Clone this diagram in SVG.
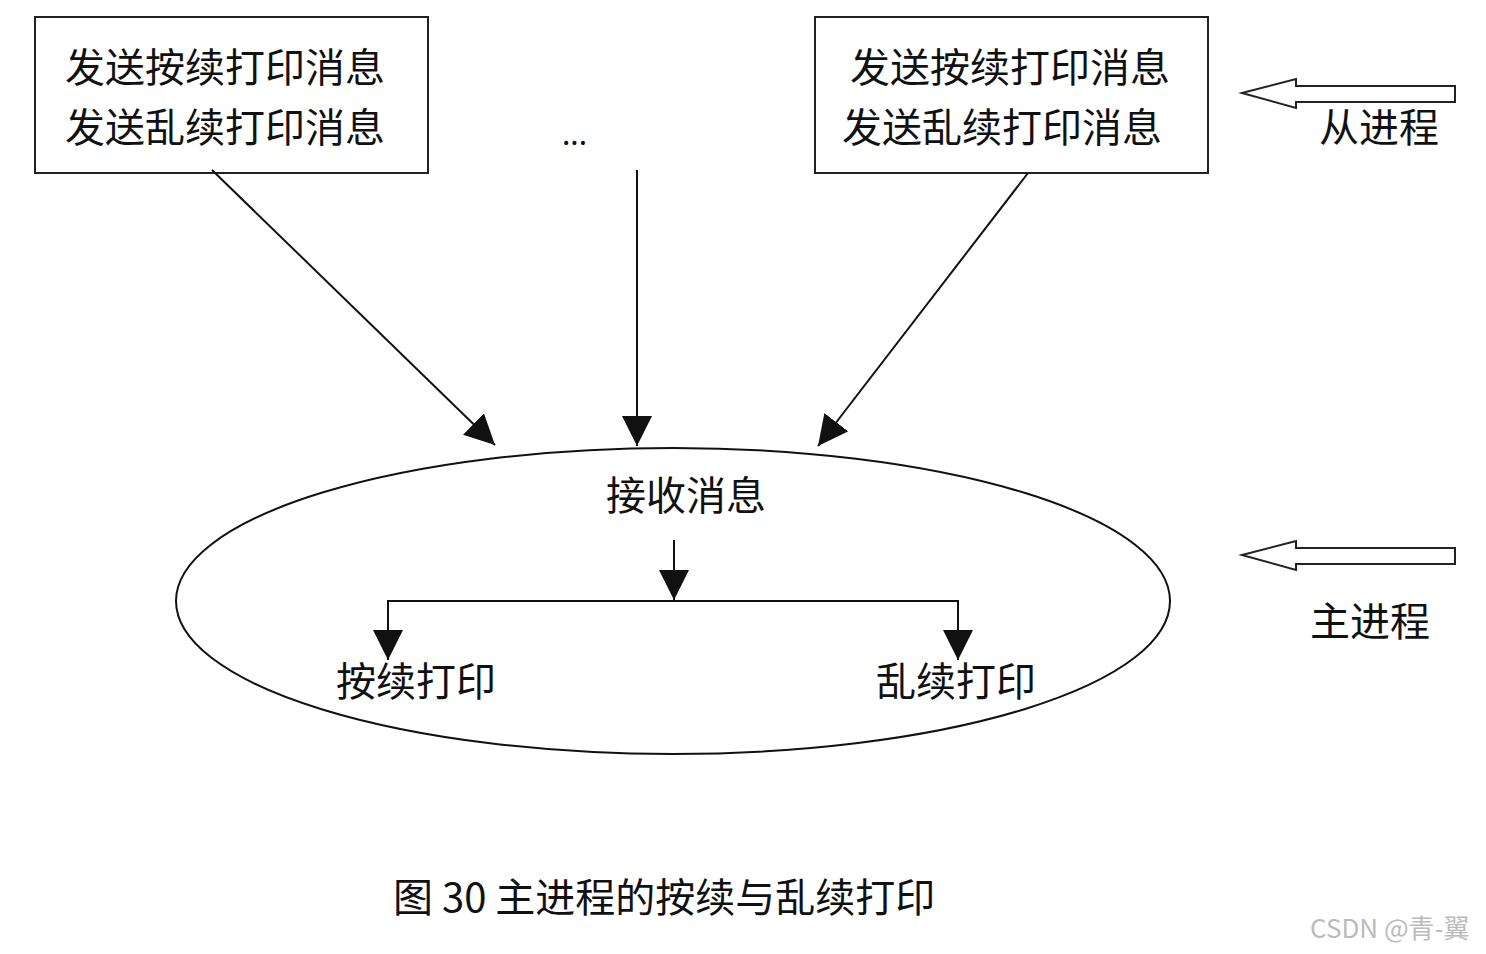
<svg xmlns="http://www.w3.org/2000/svg" width="1486" height="954" viewBox="0 0 1486 954">
<defs>
<style>
text{font-family:"Noto Sans CJK SC","Liberation Sans",sans-serif;fill:#111}
.t{font-size:40px}
.box{fill:#fff;stroke:#222;stroke-width:2}
.ln{stroke:#111;stroke-width:2;fill:none}
.hol{fill:#fff;stroke:#222;stroke-width:2}
</style>
<marker id="ah" viewBox="0 0 10 10" refX="10" refY="5" markerWidth="30" markerHeight="30" markerUnits="userSpaceOnUse" orient="auto"><path d="M0,0L10,5L0,10z" fill="#111"/></marker>
</defs>
<rect width="1486" height="954" fill="#fff"/>
<g id="box-left"><rect class="box" x="35" y="17" width="393" height="156"/>
<text class="t" x="65" y="82">发送按续打印消息</text><text class="t" x="65" y="142">发送乱续打印消息</text></g>
<g id="box-right"><rect class="box" x="815" y="17" width="393" height="156"/>
<text class="t" x="850" y="82">发送按续打印消息</text><text class="t" x="842" y="142">发送乱续打印消息</text></g>
<g id="dots"><text x="562" y="145" style="font-size:30px">...</text></g>
<g id="main"><ellipse cx="673" cy="601" rx="497" ry="153" fill="none" stroke="#111" stroke-width="2"/>
<text class="t" x="686" y="510" text-anchor="middle">接收消息</text>
<text class="t" x="416" y="696" text-anchor="middle">按续打印</text>
<text class="t" x="956" y="696" text-anchor="middle">乱续打印</text></g>
<g id="connectors">
<line class="ln" x1="212" y1="170" x2="495" y2="445" marker-end="url(#ah)"/>
<line class="ln" x1="637" y1="170" x2="637" y2="446" marker-end="url(#ah)"/>
<line class="ln" x1="1028" y1="173" x2="818" y2="446" marker-end="url(#ah)"/>
<line class="ln" x1="674" y1="540" x2="674" y2="600" marker-end="url(#ah)"/>
<polyline class="ln" points="388,660 388,601 958,601 958,660"/>
<line class="ln" x1="388" y1="620" x2="388" y2="660" marker-end="url(#ah)"/>
<line class="ln" x1="958" y1="620" x2="958" y2="660" marker-end="url(#ah)"/>
</g>
<g id="slave-label"><path class="hol" d="M1242,93 L1296,79 L1296,86 L1455,86 L1455,102 L1296,102 L1296,108 Z"/>
<text class="t" x="1379" y="142" text-anchor="middle">从进程</text></g>
<g id="master-label"><path class="hol" d="M1242,555 L1296,541 L1296,548 L1455,548 L1455,564 L1296,564 L1296,570 Z"/>
<text class="t" x="1370" y="636" text-anchor="middle">主进程</text></g>
<text x="393" y="912" style="font-size:40px">图 30 主进程的按续与乱续打印</text>
<text x="1310" y="938" style="font-size:26px;fill:#bbb">CSDN @青-翼</text>
</svg>
